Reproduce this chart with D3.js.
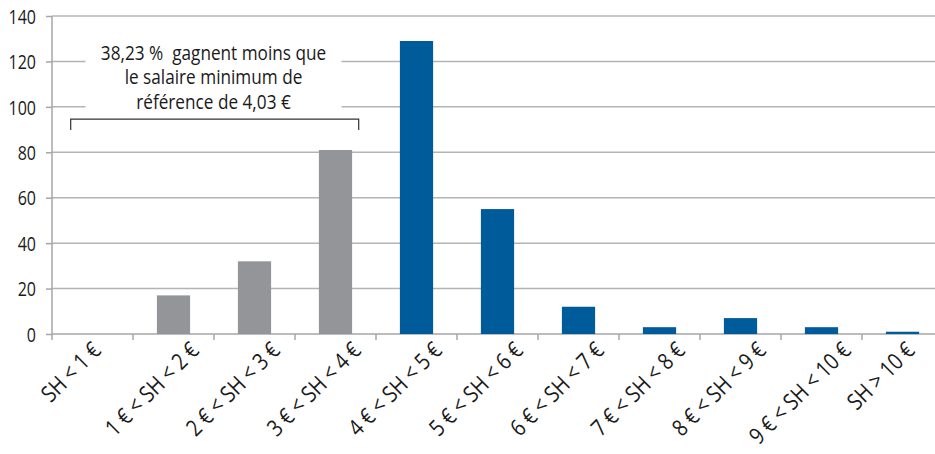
<!DOCTYPE html>
<html>
<head>
<meta charset="utf-8">
<script src="https://cdn.jsdelivr.net/npm/d3@7"></script>
<style>
  body { margin: 0; background: #fff; }
  text { font-family: "Open Sans", sans-serif; fill: #1a1a1a; }
</style>
</head>
<body>
<script>
// categories (tranches de salaire horaire)
var categories = ["SH < 1 €", "1 € < SH < 2 €", "2 € < SH < 3 €", "3 € < SH < 4 €", "4 € < SH < 5 €",
  "5 € < SH < 6 €", "6 € < SH < 7 €", "7 € < SH < 8 €", "8 € < SH < 9 €", "9 € < SH < 10 €", "SH > 10 €"];
var values = [0, 17, 32, 81, 129, 55, 12, 3, 7, 3, 1];
var belowMin = [true, true, true, true, false, false, false, false, false, false, false];
var yTicks = [0, 20, 40, 60, 80, 100, 120, 140];
var noteLines = ["38,23 %  gagnent moins que", "le salaire minimum de", "référence de 4,03 €"];

var margin = {top: 16, left: 52},
    width = 891, height = 318;
var squeeze = 0.84; // police étroite simulée

var svg = d3.select("body").append("svg")
    .attr("width", 935).attr("height", 454);
var g = svg.append("g").attr("transform", "translate(" + margin.left + "," + margin.top + ")");

var x = d3.scaleBand().domain(categories).range([0, width]).paddingInner(0.59).paddingOuter(0.295);
var xb = d3.scaleBand().domain(categories).range([0, width]);
var y = d3.scaleLinear().domain([0, 140]).range([height, 0]);

// grille horizontale
g.append("g").selectAll("line").data(yTicks.slice(1)).enter().append("line")
    .attr("x1", 0).attr("x2", width)
    .attr("y1", function(d) { return y(d); }).attr("y2", function(d) { return y(d); })
    .attr("stroke", "#b4b4b4").attr("stroke-width", 1.5);

// axe y
var yAxis = g.append("g").call(d3.axisLeft(y).tickValues(yTicks).tickSize(6).tickPadding(10));
yAxis.select(".domain").attr("stroke", "#a6a6a6").attr("stroke-width", 1.5).attr("d", "M0," + height + "V0");
yAxis.selectAll(".tick line").attr("stroke", "#a6a6a6").attr("stroke-width", 1.5);
yAxis.selectAll(".tick text")
    .attr("x", 0).attr("dy", "0.36em")
    .attr("transform", "translate(-16,0) scale(0.8,1)")
    .attr("font-size", 20).attr("font-family", null);

// axe x : graduations aux limites des bandes
var xAxis = g.append("g").attr("transform", "translate(0," + height + ")");
xAxis.append("line").attr("x1", 0).attr("x2", width).attr("stroke", "#a6a6a6").attr("stroke-width", 1.5);
xAxis.selectAll(".tk").data(categories).enter().append("line")
    .attr("x1", function(d) { return xb(d); }).attr("x2", function(d) { return xb(d); })
    .attr("y1", 0).attr("y2", 6).attr("stroke", "#a6a6a6").attr("stroke-width", 1.5);
// étiquettes inclinées : centrées sur la catégorie, haut aligné (comme Excel)
xAxis.selectAll(".lbl").data(categories).enter().append("text")
    .attr("text-anchor", "end")
    .attr("dy", "0.55em")
    .attr("font-size", 23)
    .text(function(d) { return d; })
    .attr("transform", function(d) {
      var len = this.getComputedTextLength() * squeeze;
      var ex = xb(d) + xb.bandwidth() / 2 - 25 + len * 0.3535;
      return "translate(" + ex + ",9) rotate(-45) scale(" + squeeze + ",1)";
    });

// barres
g.selectAll(".bar").data(values).enter().append("rect")
    .attr("x", function(d, i) { return x(categories[i]); })
    .attr("y", function(d) { return y(d); })
    .attr("width", x.bandwidth())
    .attr("height", function(d) { return height - y(d); })
    .attr("fill", function(d, i) { return belowMin[i] ? "#939598" : "#005b9a"; });

// annotation
var cx = xb(categories[2]) - 0.5;
g.append("rect").attr("x", cx - 128).attr("y", 16).attr("width", 256).attr("height", 78).attr("fill", "#fff");
g.append("text").attr("transform", "translate(" + cx + ",0) scale(0.86,1)")
    .attr("text-anchor", "middle").attr("font-size", 20)
    .style("white-space", "pre")
  .selectAll("tspan").data(noteLines).enter().append("tspan")
    .attr("x", 0).attr("y", function(d, i) { return 44 + i * 24.5; })
    .text(function(d) { return d; });

// accolade
var bx0 = xb(categories[0]) + 18.7, bx1 = xb(categories[4]) - 17.3, by = y(94.6);
g.append("path")
    .attr("d", "M" + bx0 + "," + (by + 11) + "V" + by + "H" + bx1 + "V" + (by + 11))
    .attr("fill", "none").attr("stroke", "#333").attr("stroke-width", 1.2);
</script>
</body>
</html>
